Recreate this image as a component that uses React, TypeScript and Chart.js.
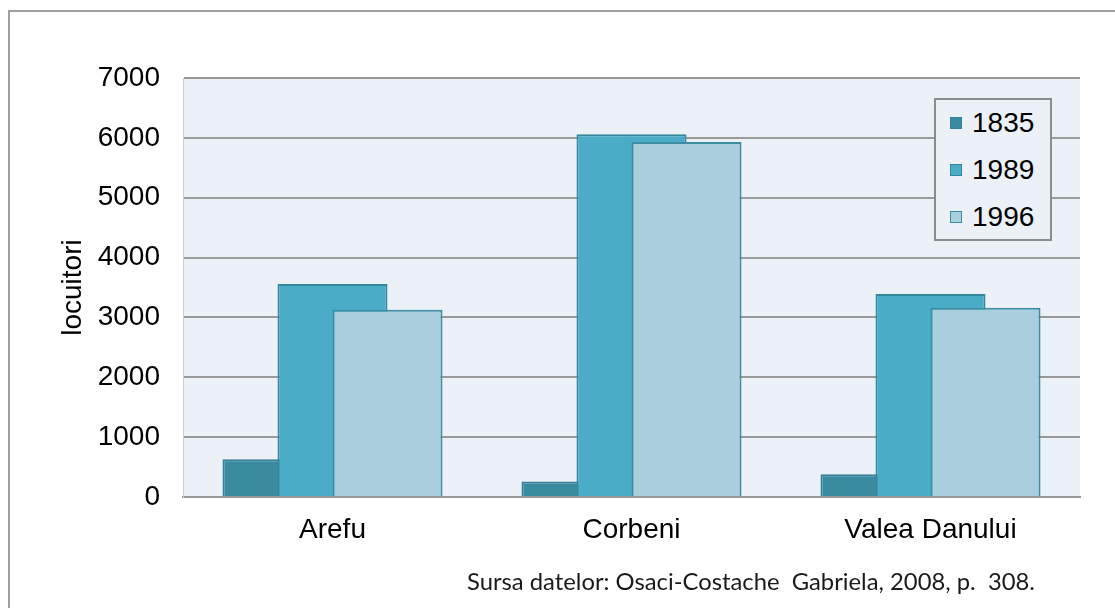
import React, { useEffect, useRef } from 'react';
import { Chart, registerables } from 'chart.js';

Chart.register(...registerables);

const categories = ['Arefu', 'Corbeni', 'Valea Danului'];
const seriesNames = ['1835', '1989', '1996'];
const values1835 = [630, 260, 380];
const values1989 = [3560, 6060, 3390];
const values1996 = [3130, 5930, 3160];
const yMin = 0;
const yMax = 7000;
const yStep = 1000;
const yTitle = 'locuitori';
const sourceText = 'Sursa datelor: Osaci-Costache  Gabriela, 2008, p.  308.';

const fills = ['#3B8BA0', '#4AACC6', '#A9CEDD'];
const borders = ['#34819A', '#35879E', '#3C8CA2'];
const FONT = '"Liberation Sans", Arial, sans-serif';

const bgPlugin = {
  id: 'plotBg',
  beforeDraw(chart: any) {
    const { ctx, chartArea } = chart;
    ctx.save();
    ctx.fillStyle = '#ECF1F8';
    ctx.fillRect(chartArea.left, chartArea.top, chartArea.right - chartArea.left, chartArea.bottom - chartArea.top);
    ctx.restore();
  },
};

// draw datasets in natural order so later series overlap earlier ones
const orderPlugin = {
  id: 'drawOrder',
  beforeDatasetsDraw(chart: any) {
    const { ctx, chartArea } = chart;
    const n = chart.data.datasets.length;
    for (let i = 0; i < n; i++) {
      const meta = chart.getDatasetMeta(i);
      if (!meta.visible) continue;
      ctx.save();
      ctx.beginPath();
      ctx.rect(chartArea.left, chartArea.top - 5, chartArea.right - chartArea.left, chartArea.bottom - chartArea.top + 10);
      ctx.clip();
      meta.controller.draw();
      ctx.restore();
    }
    return false;
  },
};

export default function App() {
  const canvasRef = useRef<HTMLCanvasElement | null>(null);

  useEffect(() => {
    if (!canvasRef.current) return;
    const seriesValues = [values1835, values1989, values1996];
    const chart = new Chart(canvasRef.current, {
      type: 'bar',
      data: {
        labels: categories,
        datasets: seriesNames.map((name, i) => ({
          label: name,
          data: seriesValues[i],
          backgroundColor: fills[i],
          borderColor: borders[i],
          borderWidth: 2,
          borderSkipped: 'bottom',
          categoryPercentage: 0.552,
          barPercentage: 2.0,
        })),
      },
      options: {
        animation: false,
        responsive: false,
        maintainAspectRatio: false,
        layout: { padding: { top: 78, right: 35, bottom: 51, left: 56 } },
        plugins: {
          legend: { display: false },
          tooltip: { enabled: false },
          title: { display: false },
        },
        scales: {
          x: {
            grid: { display: false, drawTicks: false },
            border: { display: true, color: '#999999', width: 2 },
            ticks: {
              color: '#000000',
              font: { family: FONT, size: 28 },
              padding: 16,
              maxRotation: 0,
              autoSkip: false,
            },
            afterFit: (s: any) => { s.height = 60; },
          },
          y: {
            min: yMin,
            max: yMax,
            ticks: {
              stepSize: yStep,
              color: '#000000',
              font: { family: FONT, size: 28 },
              padding: 23,
              callback: (v: any) => String(v),
            },
            grid: { color: '#999999', lineWidth: 2, drawTicks: false },
            border: { display: true, color: '#C8CCD4', width: 1 },
            title: {
              display: true,
              text: yTitle,
              color: '#000000',
              font: { family: FONT, size: 28 },
              padding: 0,
            },
            afterFit: (s: any) => { s.width = 127; },
          },
        },
      },
      plugins: [bgPlugin, orderPlugin],
    });
    return () => chart.destroy();
  }, []);

  return (
    <div style={{ position: 'fixed', left: 0, top: 0, width: 1115, height: 608, background: '#ffffff', overflow: 'hidden' }}>
      <div
        style={{
          position: 'absolute',
          left: 8,
          top: 10,
          width: 1200,
          height: 700,
          border: '2px solid #A0A0A0',
          boxSizing: 'border-box',
        }}
      />
      <canvas ref={canvasRef} width={1115} height={608} style={{ position: 'absolute', left: 0, top: 0, width: 1115, height: 608 }} />
      <div
        style={{
          position: 'absolute',
          left: 934,
          top: 98,
          width: 118,
          height: 143,
          boxSizing: 'border-box',
          border: '2px solid #8C8C8C',
          background: '#ECF1F8',
        }}
      >
        {seriesNames.map((name, i) => (
          <div
            key={name}
            style={{
              position: 'absolute',
              left: 14,
              top: 6 + i * 47,
              height: 34,
              display: 'flex',
              alignItems: 'center',
              fontFamily: FONT,
              fontSize: 28,
              color: '#000000',
              lineHeight: '34px',
            }}
          >
            <span
              style={{
                display: 'inline-block',
                width: 12,
                height: 12,
                background: fills[i],
                border: `1.5px solid ${borders[i]}`,
                boxSizing: 'border-box',
                marginRight: 10,
              }}
            />
            <span>{name}</span>
          </div>
        ))}
      </div>
      <div
        style={{
          position: 'absolute',
          left: 467,
          top: 566,
          fontFamily: 'Lato, "Open Sans", sans-serif',
          fontSize: 23.8,
          lineHeight: '30px',
          color: '#1a1a1a',
          whiteSpace: 'pre',
        }}
      >
        {sourceText}
      </div>
    </div>
  );
}
